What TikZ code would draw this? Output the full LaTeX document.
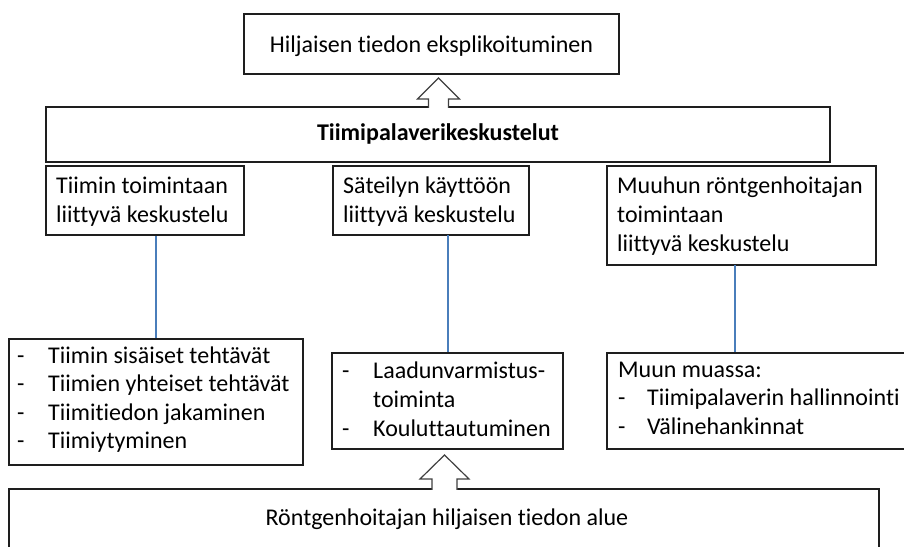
\documentclass[tikz,border=0pt]{standalone}
\usepackage{fontspec}
\setmainfont{Carlito}[Ligatures={NoCommon}]
\definecolor{linkblue}{RGB}{74,126,187}
\definecolor{boxline}{RGB}{30,30,30}
\definecolor{arrowline}{RGB}{64,64,64}
\begin{document}
\begin{tikzpicture}[x=1pt,y=-1pt,
  box/.style={draw=boxline, line width=1.6pt, fill=white, inner sep=0pt, rectangle},
  txt/.style={anchor=base west, inner sep=0pt, font=\fontsize{24}{29}\selectfont},
  ctxt/.style={anchor=base, inner sep=0pt, font=\fontsize{24}{29}\selectfont},
  link/.style={draw=linkblue, line width=1.5pt},
  blockarrow/.style={draw=arrowline, line width=1.2pt, line join=miter}
]
\useasboundingbox (0,0) rectangle (904,546);

% boxes
\node[box, minimum width=375pt, minimum height=60pt] (top) at (431.5,44) {};
\node[box, minimum width=784pt, minimum height=55pt] (main) at (438,134.5) {};
\node[box, minimum width=198pt, minimum height=69pt] (b1) at (145,200.5) {};
\node[box, minimum width=196pt, minimum height=69pt] (b2) at (431,200.5) {};
\node[box, minimum width=269pt, minimum height=99pt] (b3) at (741.5,215.5) {};
\node[box, minimum width=294pt, minimum height=126pt] (l1) at (156,402) {};
\node[box, minimum width=231pt, minimum height=96pt] (l2) at (447.5,401) {};
\node[box, minimum width=308pt, minimum height=96pt] (l3) at (761,401) {};
\node[box, minimum width=870pt, minimum height=71pt] (base) at (444,524.5) {};

% connectors between the discussion boxes and their topic lists
\draw[link] (l1.north) -- (l1.north |- b1.south);
\coordinate (c2) at (448,235);
\draw[link] (c2) -- (c2 |- l2.north);
\coordinate (c3) at (735,265);
\draw[link] (c3) -- (c3 |- l3.north);

% block arrow from the meetings box up to the top box
\fill[white] (428.5,109) -- (428.5,99) -- (417.5,99) -- (438.5,78) -- (459.5,99) -- (448.5,99) -- (448.5,109) -- cycle;
\draw[blockarrow] (428.5,107.8) -- (428.5,99) -- (417.5,99) -- (438.5,78) -- (459.5,99) -- (448.5,99) -- (448.5,107.8);

% block arrow from the bottom box up to the middle list
\fill[white] (432,491) -- (432,479) -- (420,479) -- (444.5,455) -- (469,479) -- (457,479) -- (457,491) -- cycle;
\draw[blockarrow] (432,489.8) -- (432,479) -- (420,479) -- (444.5,455) -- (469,479) -- (457,479) -- (457,489.8);

% texts
\node[ctxt] (ttop) at (431.5,52) {Hiljaisen tiedon eksplikoituminen};
\node[ctxt, font=\fontsize{24}{29}\selectfont\bfseries] (tmain) at (438,140) {Tiimipalaverikeskustelut};
\node[ctxt] (tbase) at (447,525) {Röntgenhoitajan hiljaisen tiedon alue};

\node[txt] (t1a) at (56,193) {Tiimin toimintaan};
\node[txt] (t1b) at (56,222) {liittyvä keskustelu};

\node[txt] (t2a) at (343,193) {Säteilyn käyttöön};
\node[txt] (t2b) at (343,222) {liittyvä keskustelu};

\node[txt] (t3a) at (617,193) {Muuhun röntgenhoitajan};
\node[txt] (t3b) at (617,222) {toimintaan};
\node[txt] (t3c) at (617,251) {liittyvä keskustelu};

\foreach \y/\s [count=\i] in {363/Tiimin sisäiset tehtävät,391.5/Tiimien yhteiset tehtävät,420/Tiimitiedon jakaminen,448.5/Tiimiytyminen}{
  \node[txt] (d1\i) at (17,\y) {-};
  \node[txt] (s1\i) at (48,\y) {\s};
}

\node[txt] (d21) at (342,378) {-};
\node[txt] (s21) at (373,378) {Laadunvarmistus-};
\node[txt] (s22) at (373,407) {toiminta};
\node[txt] (d23) at (342,436) {-};
\node[txt] (s23) at (373,436) {Kouluttautuminen};

\node[txt] (s30) at (618,377) {Muun muassa:};
\node[txt] (d31) at (618,405) {-};
\node[txt] (s31) at (647,405) {Tiimipalaverin hallinnointi};
\node[txt] (d32) at (618,434) {-};
\node[txt] (s32) at (647,434) {Välinehankinnat};
\end{tikzpicture}
\end{document}
